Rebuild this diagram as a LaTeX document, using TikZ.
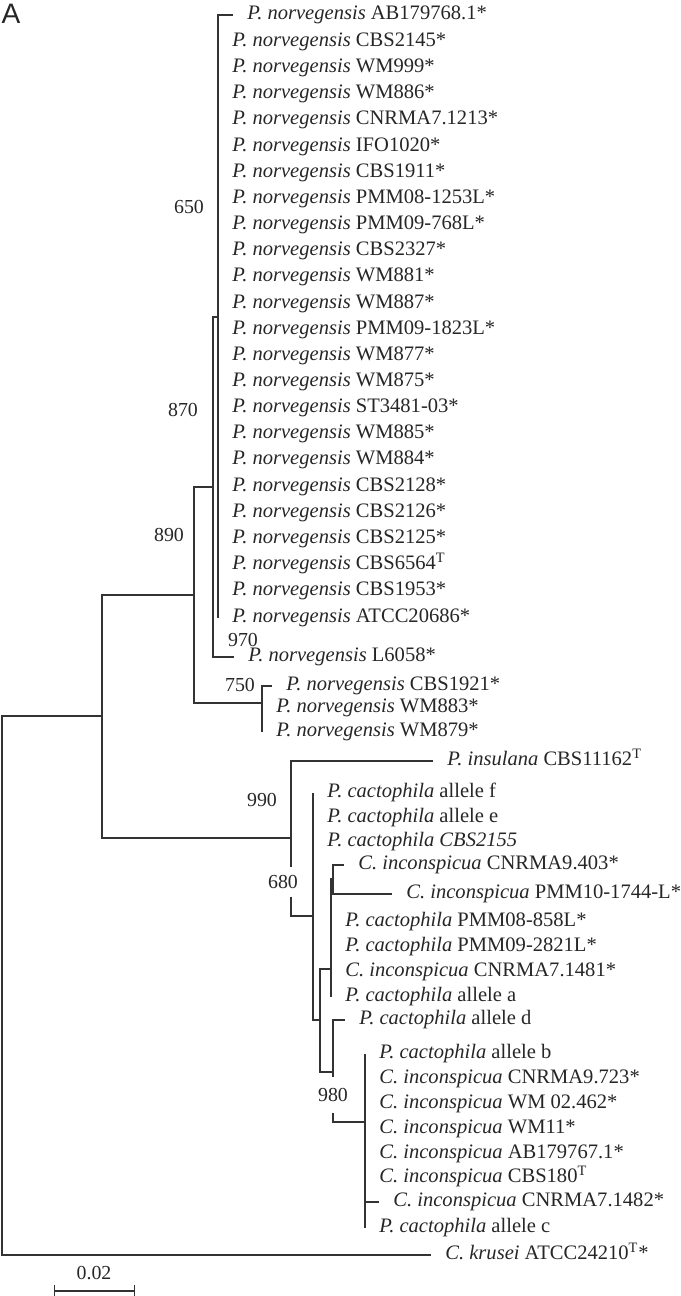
\documentclass[tikz,border=0pt]{standalone}
\usepackage{fontspec}
\setmainfont{Liberation Serif}
\newfontfamily\panelfont{Liberation Sans}

\begin{document}
\begin{tikzpicture}[x=0.2mm,y=-0.2mm,
  branch/.style={line width=0.7pt,draw=black!80},
  taxon/.style={anchor=west,inner xsep=2.8mm,inner ysep=0pt,text height=8pt,text depth=2.6pt,text=black!85,font=\fontsize{11.7}{13}\selectfont},
  boot/.style={inner sep=1pt,text=black!85,font=\fontsize{11.3}{13}\selectfont}]
\useasboundingbox (0,0) rectangle (680,1296);
\coordinate (root) at (2,985);
\coordinate (ingroup) at (102,716);
\coordinate (b890) at (194,595);
\coordinate (b870) at (213,487);
\coordinate (b650) at (218,317);
\coordinate (b750) at (262,703);
\coordinate (b990) at (291,838);
\coordinate (b680) at (313,916);
\coordinate (cact1) at (320,1020);
\coordinate (cact2) at (331,969);
\coordinate (incon) at (333,879);
\coordinate (cact3) at (333,1072);
\coordinate (b980) at (365,1122);
\node[taxon] (AB179768) at (233,15) {\textit{P. norvegensis} AB179768.1*};
\node[taxon] (CBS2145) at (218,42) {\textit{P. norvegensis} CBS2145*};
\node[taxon] (WM999) at (218,68) {\textit{P. norvegensis} WM999*};
\node[taxon] (WM886) at (218,94) {\textit{P. norvegensis} WM886*};
\node[taxon] (CNRMA71213) at (218,120) {\textit{P. norvegensis} CNRMA7.1213*};
\node[taxon] (IFO1020) at (218,147) {\textit{P. norvegensis} IFO1020*};
\node[taxon] (CBS1911) at (218,173) {\textit{P. norvegensis} CBS1911*};
\node[taxon] (PMM081253L) at (218,199) {\textit{P. norvegensis} PMM08-1253L*};
\node[taxon] (PMM09768L) at (218,225) {\textit{P. norvegensis} PMM09-768L*};
\node[taxon] (CBS2327) at (218,251) {\textit{P. norvegensis} CBS2327*};
\node[taxon] (WM881) at (218,277) {\textit{P. norvegensis} WM881*};
\node[taxon] (WM887) at (218,304) {\textit{P. norvegensis} WM887*};
\node[taxon] (PMM091823L) at (218,330) {\textit{P. norvegensis} PMM09-1823L*};
\node[taxon] (WM877) at (218,356) {\textit{P. norvegensis} WM877*};
\node[taxon] (WM875) at (218,382) {\textit{P. norvegensis} WM875*};
\node[taxon] (ST348103) at (218,408) {\textit{P. norvegensis} ST3481-03*};
\node[taxon] (WM885) at (218,434) {\textit{P. norvegensis} WM885*};
\node[taxon] (WM884) at (218,460) {\textit{P. norvegensis} WM884*};
\node[taxon] (CBS2128) at (218,487) {\textit{P. norvegensis} CBS2128*};
\node[taxon] (CBS2126) at (218,513) {\textit{P. norvegensis} CBS2126*};
\node[taxon] (CBS2125) at (218,539) {\textit{P. norvegensis} CBS2125*};
\node[taxon] (CBS6564) at (218,565) {\textit{P. norvegensis} CBS6564\textsuperscript{T}};
\node[taxon] (CBS1953) at (218,591) {\textit{P. norvegensis} CBS1953*};
\node[taxon] (ATCC20686) at (218,618) {\textit{P. norvegensis} ATCC20686*};
\node[taxon] (L6058) at (234,657) {\textit{P. norvegensis} L6058*};
\node[taxon] (CBS1921) at (272,686) {\textit{P. norvegensis} CBS1921*};
\node[taxon] (WM883) at (262,708) {\textit{P. norvegensis} WM883*};
\node[taxon] (WM879) at (262,732) {\textit{P. norvegensis} WM879*};
\node[taxon] (CBS11162) at (433,761) {\textit{P. insulana} CBS11162\textsuperscript{T}};
\node[taxon] (allelef) at (313,793) {\textit{P. cactophila} allele f};
\node[taxon] (allelee) at (313,818) {\textit{P. cactophila} allele e};
\node[taxon] (CBS2155) at (313,842) {\textit{P. cactophila CBS2155}};
\node[taxon] (CNRMA9403) at (344,865) {\textit{C. inconspicua} CNRMA9.403*};
\node[taxon] (PMM101744L) at (392,894) {\textit{C. inconspicua} PMM10-1744-L*};
\node[taxon] (PMM08858L) at (331,922) {\textit{P. cactophila} PMM08-858L*};
\node[taxon] (PMM092821L) at (331,947) {\textit{P. cactophila} PMM09-2821L*};
\node[taxon] (CNRMA71481) at (331,972) {\textit{C. inconspicua} CNRMA7.1481*};
\node[taxon] (allelea) at (331,997) {\textit{P. cactophila} allele a};
\node[taxon] (alleled) at (345,1020) {\textit{P. cactophila} allele d};
\node[taxon] (alleleb) at (365,1054) {\textit{P. cactophila} allele b};
\node[taxon] (CNRMA9723) at (365,1079) {\textit{C. inconspicua} CNRMA9.723*};
\node[taxon] (WM02462) at (365,1104) {\textit{C. inconspicua} WM 02.462*};
\node[taxon] (WM11) at (365,1129) {\textit{C. inconspicua} WM11*};
\node[taxon] (AB179767) at (365,1154) {\textit{C. inconspicua} AB179767.1*};
\node[taxon] (CBS180) at (365,1178) {\textit{C. inconspicua} CBS180\textsuperscript{T}};
\node[taxon] (CNRMA71482) at (379,1202) {\textit{C. inconspicua} CNRMA7.1482*};
\node[taxon] (allelec) at (365,1228) {\textit{P. cactophila} allele c};
\node[taxon] (ATCC24210) at (431,1255) {\textit{C. krusei} ATCC24210\textsuperscript{T}*};
\draw[branch] (root) |- (ingroup);
\draw[branch] (root) |- (ATCC24210.west);
\draw[branch] (ingroup) |- (b890);
\draw[branch] (ingroup) |- (b990);
\draw[branch] (b890) |- (b870);
\draw[branch] (b890) |- (b750);
\draw[branch] (b870) |- (b650);
\draw[branch] (b870) |- (L6058.west);
\draw[branch] (b650) |- (AB179768.west);
\draw[branch] (b650) |- (ATCC20686.west);
\draw[branch] (b750) |- (CBS1921.west);
\draw[branch] (b750) |- (WM879.west);
\draw[branch] (b990) |- (CBS11162.west);
\draw[branch] (b990) |- (b680);
\draw[branch] (b680) |- (allelef.west);
\draw[branch] (b680) |- (cact1);
\draw[branch] (cact1) |- (cact2);
\draw[branch] (cact1) |- (cact3);
\draw[branch] (cact2) |- (incon);
\draw[branch] (cact2) |- (allelea.west);
\draw[branch] (incon) |- (CNRMA9403.west);
\draw[branch] (incon) |- (PMM101744L.west);
\draw[branch] (cact3) |- (alleled.west);
\draw[branch] (cact3) |- (b980);
\draw[branch] (b980) |- (alleleb.west);
\draw[branch] (b980) |- (CNRMA71482.west);
\draw[branch] (b980) |- (allelec.west);
\node[boot] (v650) at (189,207) {650};
\node[boot] (v870) at (183,410) {870};
\node[boot] (v890) at (169,535) {890};
\node[boot] (v970) at (243,640) {970};
\node[boot] (v750) at (240,685) {750};
\node[boot] (v990) at (262,800) {990};
\node[boot,fill=white,inner ysep=4.5pt] (v680) at (283,882) {680};
\node[boot,fill=white,inner ysep=6.5pt] (v980) at (333,1095) {980};
\coordinate (bar0) at (54,1291);
\coordinate (bar1) at (135,1291);
\draw[branch,|-|] (bar0) -- (bar1);
\node[boot] (barlabel) at (94,1273) {0.02};
\node[text=black!85,font=\panelfont\fontsize{16}{18}\selectfont,inner sep=0pt] (panel) at (11,14) {A};
\end{tikzpicture}
\end{document}
